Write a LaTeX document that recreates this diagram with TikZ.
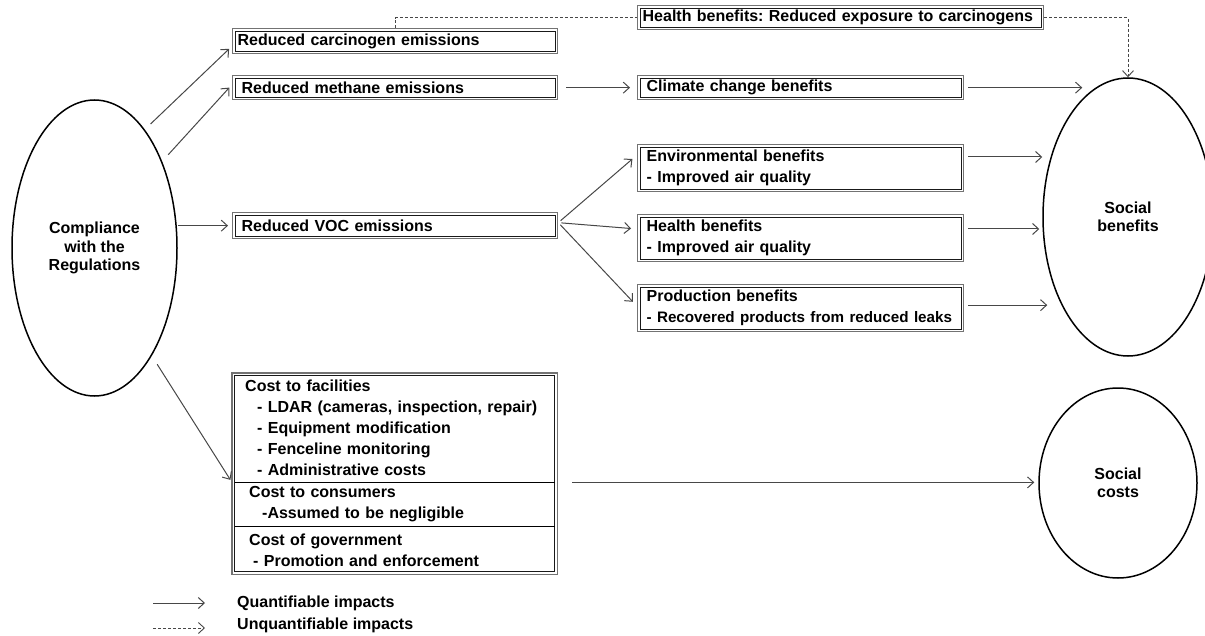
\documentclass[tikz,border=0pt]{standalone}
\usepackage{fontspec}
\setmainfont{Liberation Sans}
\usetikzlibrary{arrows.meta,positioning,shapes.geometric}
\frenchspacing

\tikzstyle{box} = [draw=black!55, line width=1.3pt, anchor=north west, align=left,
  inner xsep=9pt, inner ysep=0pt, font=\bfseries\fontsize{16}{21}\selectfont,
  path picture={\draw[black!90, line width=0.9pt]
    ([shift={(2.6pt,-2.6pt)}]path picture bounding box.north west) rectangle
    ([shift={(-2.6pt,2.6pt)}]path picture bounding box.south east);}]
\tikzstyle{part} = [anchor=north west, align=left, inner ysep=0pt,
  font=\bfseries\fontsize{16}{21}\selectfont]
\tikzstyle{oval} = [draw, ellipse, line width=1.5pt, inner sep=0pt, align=center,
  font=\bfseries\fontsize{16}{18.5}\selectfont]
\tikzstyle{flow} = [draw=black!72, line width=1pt, -{Straight Barb[length=6pt,width=11pt]}]
\tikzstyle{hidden} = [draw=black!72, line width=0.9pt, dash pattern=on 3pt off 2pt]
\tikzstyle{legend} = [anchor=west, inner sep=0pt, font=\bfseries\fontsize{16}{18}\selectfont]

\begin{document}
\begin{tikzpicture}[x=1pt, y=-1pt]
\useasboundingbox (0,0) rectangle (1205,636);

\node[oval, minimum width=165pt, minimum height=296pt] (comp) at (94.5,248) {Compliance\\with the\\Regulations};
\node[oval, minimum width=170pt, minimum height=278pt] (soc) at (1128,217) {Social\\benefits};
\node[oval, minimum width=158pt, minimum height=190pt] (costs) at (1118,483) {Social\\costs};

\node[box, inner xsep=5pt, text width=315pt, minimum height=25pt] (carc) at (232,28) {Reduced carcinogen emissions};
\node[box, text width=307pt, minimum height=24pt] (meth) at (232,75) {Reduced methane emissions};
\node[box, text width=307pt, minimum height=26pt] (voc) at (232,212) {Reduced VOC emissions};

\node[box, inner xsep=5pt, text width=396pt, minimum height=24pt] (hbc) at (637,5) {Health benefits: Reduced exposure to carcinogens};
\node[box, text width=308pt, minimum height=24pt] (clim) at (637,75) {Climate change benefits};
\node[box, text width=308pt, minimum height=47pt] (env) at (637,144) {Environmental benefits\\- Improved air quality};
\node[box, text width=308pt, minimum height=47pt] (hlth) at (637,214) {Health benefits\\- Improved air quality};
\node[box, text width=308pt, minimum height=47pt] (prod) at (637,284)
  {Production benefits\\{\fontsize{15.2}{21}\selectfont - Recovered products from reduced leaks}};

\node[part, inner xsep=13pt, text width=299pt, minimum height=109pt] (fac) at (232,373)
  {Cost to facilities\\\hspace*{12pt}- LDAR (cameras, inspection, repair)\\\hspace*{12pt}- Equipment modification\\\hspace*{12pt}- Fenceline monitoring\\\hspace*{12pt}- Administrative costs};
\node[part, inner xsep=17pt, text width=291pt, minimum height=44pt, below=0pt of fac] (con)
  {Cost to consumers\\\hspace*{13pt}-Assumed to be negligible};
\node[part, inner xsep=17pt, text width=291pt, minimum height=47pt, below=0pt of con] (gov)
  {Cost of government\\\hspace*{4pt}- Promotion and enforcement};
\draw[black!55, line width=1.3pt] (fac.north west) rectangle (gov.south east);
\draw[black!90, line width=0.9pt] ([shift={(2.6pt,-2.6pt)}]fac.north west) rectangle ([shift={(-2.6pt,2.6pt)}]gov.south east);
\draw[line width=1pt] ([xshift=2.6pt]con.north west) -- ([xshift=-2.6pt]con.north east);
\draw[line width=1pt] ([xshift=2.6pt]gov.north west) -- ([xshift=-2.6pt]gov.north east);

\draw[flow, shorten <=8pt, shorten >=4pt] (comp.67) -- ([yshift=-5pt]carc.west);
\draw[flow, shorten <=9pt, shorten >=4pt] (comp.52) -- ([yshift=3pt]meth.west);
\draw[flow, shorten >=4pt] (comp.east |- voc.west) -- (voc.west);
\draw[flow, shorten <=10pt, shorten >=3pt] (comp.-62) -- (fac.south west);

\draw[flow, shorten <=8pt, shorten >=7pt] (meth.east) -- (clim.west);
\draw[flow, shorten <=4pt, shorten >=2pt] (clim.east) -- (clim.east -| soc.110);

\draw[flow, shorten <=3pt, shorten >=6pt] ([yshift=3pt]voc.east) -- ([yshift=-11pt]env.north west);
\draw[flow, shorten <=3pt, shorten >=6pt] ([yshift=3pt]voc.east) -- ([yshift=-15pt]hlth.north west);
\draw[flow, shorten <=3pt, shorten >=6pt] ([yshift=3pt]voc.east) -- ([yshift=2pt]prod.west);

\draw[flow, shorten <=4pt] ([yshift=-13pt]env.north east) -- ([yshift=-13pt]env.north east -| soc.west);
\draw[flow, shorten <=4pt, shorten >=3pt] ([yshift=-15pt]hlth.north east) -- ([yshift=-15pt]hlth.north east -| soc.west);
\draw[flow, shorten <=4pt, shorten >=-5pt] ([yshift=3pt]prod.east) -- ([yshift=3pt]prod.east -| soc.west);

\draw[flow, shorten <=15pt, shorten >=4pt] (con.north east) -- (con.north east -| costs.west);

\draw[hidden] (carc.north) |- (hbc.west);
\draw[hidden, -{Straight Barb[length=6pt,width=11pt]}] (hbc.east) -| (soc.north);

\node[legend] (quant) at (237,603) {Quantifiable impacts};
\node[legend] (unquant) at (237,625) {Unquantifiable impacts};
\coordinate (qstart) at (153,603);
\coordinate (ustart) at (153,628);
\draw[flow, shorten >=32pt] (qstart) -- (qstart -| quant.west);
\draw[hidden, -{Straight Barb[length=6pt,width=11pt]}, shorten >=32pt] (ustart) -- (ustart -| unquant.west);
\end{tikzpicture}
\end{document}
